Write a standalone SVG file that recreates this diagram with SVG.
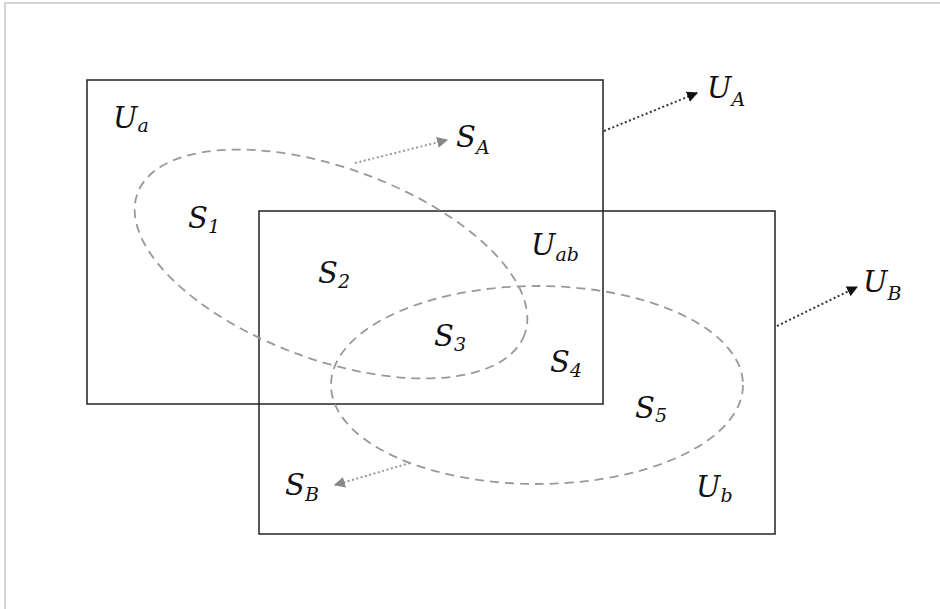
<svg xmlns="http://www.w3.org/2000/svg" width="940" height="609" viewBox="0 0 940 609">
<defs>
<style>
.frame{stroke:#d4d4d4;stroke-width:2;fill:none}
.box{fill:none;stroke:#222;stroke-width:1.5}
.set{fill:none;stroke:#999;stroke-width:1.8;stroke-dasharray:9 6}
.arr{fill:none;stroke-width:2;stroke-dasharray:2 2.5}
.blk{stroke:#333}
.gry{stroke:#999}
.lbl{font-family:"DejaVu Serif","Liberation Serif",serif;font-style:italic;font-size:29px;fill:#111}
.sub{font-size:19px}
</style>
<marker id="mb" viewBox="0 0 10 10" refX="9" refY="5" markerWidth="11" markerHeight="11" markerUnits="userSpaceOnUse" orient="auto"><path d="M0,0 L10,5 L0,10 z" fill="#111"/></marker>
<marker id="mg" viewBox="0 0 10 10" refX="9" refY="5" markerWidth="11" markerHeight="11" markerUnits="userSpaceOnUse" orient="auto"><path d="M0,0 L10,5 L0,10 z" fill="#888"/></marker>
</defs>
<path class="frame" d="M5,609 V3 H940"/>
<g id="UA"><rect class="box" x="87" y="80" width="516" height="324"/></g>
<g id="UB"><rect class="box" x="259" y="211" width="516" height="323"/></g>
<g id="SA"><ellipse class="set" cx="331" cy="264" rx="206" ry="96" transform="rotate(20 331 264)"/></g>
<g id="SB"><ellipse class="set" cx="537" cy="385" rx="206" ry="99"/></g>
<g id="connectors">
<line class="arr gry" x1="355" y1="163" x2="447" y2="140" marker-end="url(#mg)"/>
<line class="arr blk" x1="604" y1="131" x2="697" y2="93" marker-end="url(#mb)"/>
<line class="arr blk" x1="777" y1="326" x2="857" y2="287" marker-end="url(#mb)"/>
<line class="arr gry" x1="410" y1="463" x2="335" y2="485" marker-end="url(#mg)"/>
</g>
<g id="labels" class="lbl">
<text x="113" y="128">U<tspan class="sub" dy="4">a</tspan></text>
<text x="188" y="228">S<tspan class="sub" dy="5">1</tspan></text>
<text x="456" y="147">S<tspan class="sub" dy="7">A</tspan></text>
<text x="707" y="98">U<tspan class="sub" dy="8">A</tspan></text>
<text x="531" y="255">U<tspan class="sub" dy="6">ab</tspan></text>
<text x="318" y="283">S<tspan class="sub" dy="5">2</tspan></text>
<text x="434" y="346">S<tspan class="sub" dy="5">3</tspan></text>
<text x="550" y="372">S<tspan class="sub" dy="5">4</tspan></text>
<text x="635" y="418">S<tspan class="sub" dy="4">5</tspan></text>
<text x="696" y="497">U<tspan class="sub" dy="5">b</tspan></text>
<text x="863" y="292">U<tspan class="sub" dy="8">B</tspan></text>
<text x="285" y="495">S<tspan class="sub" dy="6">B</tspan></text>
</g>
</svg>
